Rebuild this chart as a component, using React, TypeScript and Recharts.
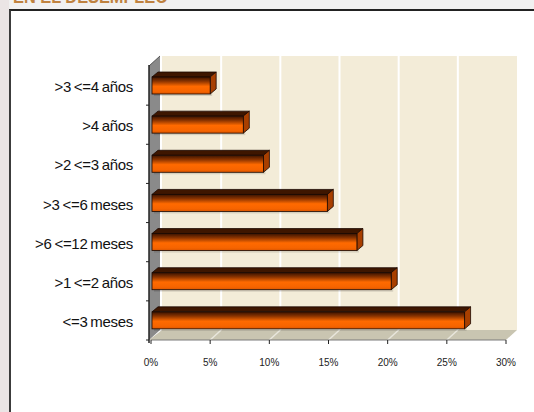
import { BarChart, Bar, XAxis, YAxis, ReferenceArea } from 'recharts';

const categories = ['>3 <=4 años', '>4 años', '>2 <=3 años', '>3 <=6 meses', '>6 <=12 meses', '>1 <=2 años', '<=3 meses'];
const values = [5.0, 7.8, 9.5, 14.9, 17.4, 20.3, 26.5];
const xTicks = [0, 5, 10, 15, 20, 25, 30];

const data = categories.map((name, i) => ({ name, value: values[i] }));

// 3D depth of the chart box
const DX = 11;
const DY = -10;

const Box = (props: any) => {
    const { x, y, width, height } = props;
    const bottom = y + height;
    const band = height / categories.length;
    return (
        <g>
            <rect x={x + DX} y={y + DY} width={width} height={height} fill="#f3ecd8" />
            {xTicks.slice(1, -1).map((t) => {
                const gx = x + (t / 30) * width;
                return <line key={t} x1={gx + DX} y1={y + DY} x2={gx + DX} y2={bottom + DY} stroke="#fff" strokeWidth={2} />;
            })}
            <polygon
                points={`${x - 2},${bottom} ${x + width},${bottom} ${x + width + DX},${bottom + DY} ${x + DX},${bottom + DY}`}
                fill="#c9c5b1"
            />
            {xTicks.slice(1, -1).map((t) => {
                const gx = x + (t / 30) * width;
                return <line key={t} x1={gx + DX} y1={bottom + DY} x2={gx} y2={bottom} stroke="#e8e6dc" strokeWidth={1.5} />;
            })}
            <polygon
                points={`${x - 2},${y} ${x - 2 + DX},${y + DY} ${x - 2 + DX},${bottom + DY} ${x - 2},${bottom}`}
                fill="#8a8a8a"
            />
            <line x1={x - 2} y1={y} x2={x - 2 + DX} y2={y + DY} stroke="#555" strokeWidth={1} />
            <line x1={x - 2} y1={y - 1} x2={x - 2} y2={bottom + 3} stroke="#222" strokeWidth={1.5} />
            {categories.map((c, i) => (
                <line key={c} x1={x - 5} y1={y + band * (i + 1)} x2={x - 2} y2={y + band * (i + 1)} stroke="#222" strokeWidth={1} />
            ))}
        </g>
    );
};

const Bar3D = (props: any) => {
    const { x, y, width, height } = props;
    const d = 6;
    const dy = -5;
    const top = y;
    const x0 = x + 1;
    const w = width - 1;
    return (
        <g>
            <rect x={x0 + 2} y={top + 2} width={w} height={height} fill="rgba(0,0,0,0.12)" />
            <polygon
                points={`${x0},${top} ${x0 + w},${top} ${x0 + w + d},${top + dy} ${x0 + d},${top + dy}`}
                fill="#3e1600"
                stroke="#1a0800"
                strokeWidth={0.8}
            />
            <polygon
                points={`${x0 + w},${top} ${x0 + w + d},${top + dy} ${x0 + w + d},${top + dy + height} ${x0 + w},${top + height}`}
                fill="#a83f00"
                stroke="#1a0800"
                strokeWidth={0.8}
            />
            <rect x={x0} y={top} width={w} height={height} fill="url(#barFront)" stroke="#1a0800" strokeWidth={0.8} />
        </g>
    );
};

const YTick = (props: any) => {
    const { x, y, payload } = props;
    return (
        <text
            x={x - 18}
            y={y + 1}
            textAnchor="end"
            dominantBaseline="central"
            fontSize={15}
            fill="#111"
            letterSpacing={-0.3}
            wordSpacing={-1}
            fontFamily="'Liberation Sans', Arial, sans-serif"
        >
            {payload.value}
        </text>
    );
};

export default function App() {
    return (
        <div style={{ position: 'absolute', left: 0, top: 0, width: 534, height: 412, background: '#f1f1f1', overflow: 'hidden' }}>
            <div style={{ position: 'absolute', left: 0, top: 0, width: 9, height: 412, background: '#ebe5e5' }} />
            <div
                style={{
                    position: 'absolute',
                    left: 13,
                    top: -13,
                    fontFamily: "'Liberation Sans Narrow', 'Arial Narrow', 'Liberation Sans', sans-serif",
                    fontWeight: 'bold',
                    fontSize: 19,
                    color: '#bf8240',
                    lineHeight: '20px',
                    whiteSpace: 'nowrap',
                    transform: 'scaleX(0.86)',
                    transformOrigin: 'left top',
                }}
            >
                EN EL DESEMPLEO
            </div>
            <div
                style={{
                    position: 'absolute',
                    left: 9,
                    top: 9,
                    width: 540,
                    height: 420,
                    background: '#fff',
                    borderLeft: '2px solid #3c3c3c',
                    borderTop: '2px solid #222',
                }}
            />
            <div style={{ position: 'absolute', left: 0, top: 0 }}>
                <BarChart
                    width={534}
                    height={412}
                    data={data}
                    layout="vertical"
                    margin={{ top: 66, right: 28, bottom: 42, left: 0 }}
                    barSize={17}
                >
                    <defs>
                        <linearGradient id="barFront" x1="0" y1="0" x2="0" y2="1">
                            <stop offset="0%" stopColor="#3a1300" />
                            <stop offset="25%" stopColor="#8a3300" />
                            <stop offset="55%" stopColor="#ff6a00" />
                            <stop offset="85%" stopColor="#f66400" />
                            <stop offset="100%" stopColor="#d95500" />
                        </linearGradient>
                    </defs>
                    <XAxis
                        type="number"
                        domain={[0, 30]}
                        ticks={xTicks}
                        tickFormatter={(v) => `${v}%`}
                        height={30}
                        stroke="#7a7a7a"
                        tickLine={{ stroke: '#222' }}
                        tickSize={4}
                        tickMargin={15}
                        tick={{ fontSize: 10, fill: '#222', fontFamily: "'Liberation Sans', Arial, sans-serif" }}
                        interval={0}
                    />
                    <YAxis
                        type="category"
                        dataKey="name"
                        width={151}
                        axisLine={false}
                        tickLine={false}
                        tickSize={0}
                        tickMargin={0}
                        tick={<YTick />}
                        interval={0}
                    />
                    <ReferenceArea x1={0} x2={30} shape={<Box />} ifOverflow="visible" />
                    <Bar dataKey="value" shape={<Bar3D />} isAnimationActive={false} />
                </BarChart>
            </div>
        </div>
    );
}
